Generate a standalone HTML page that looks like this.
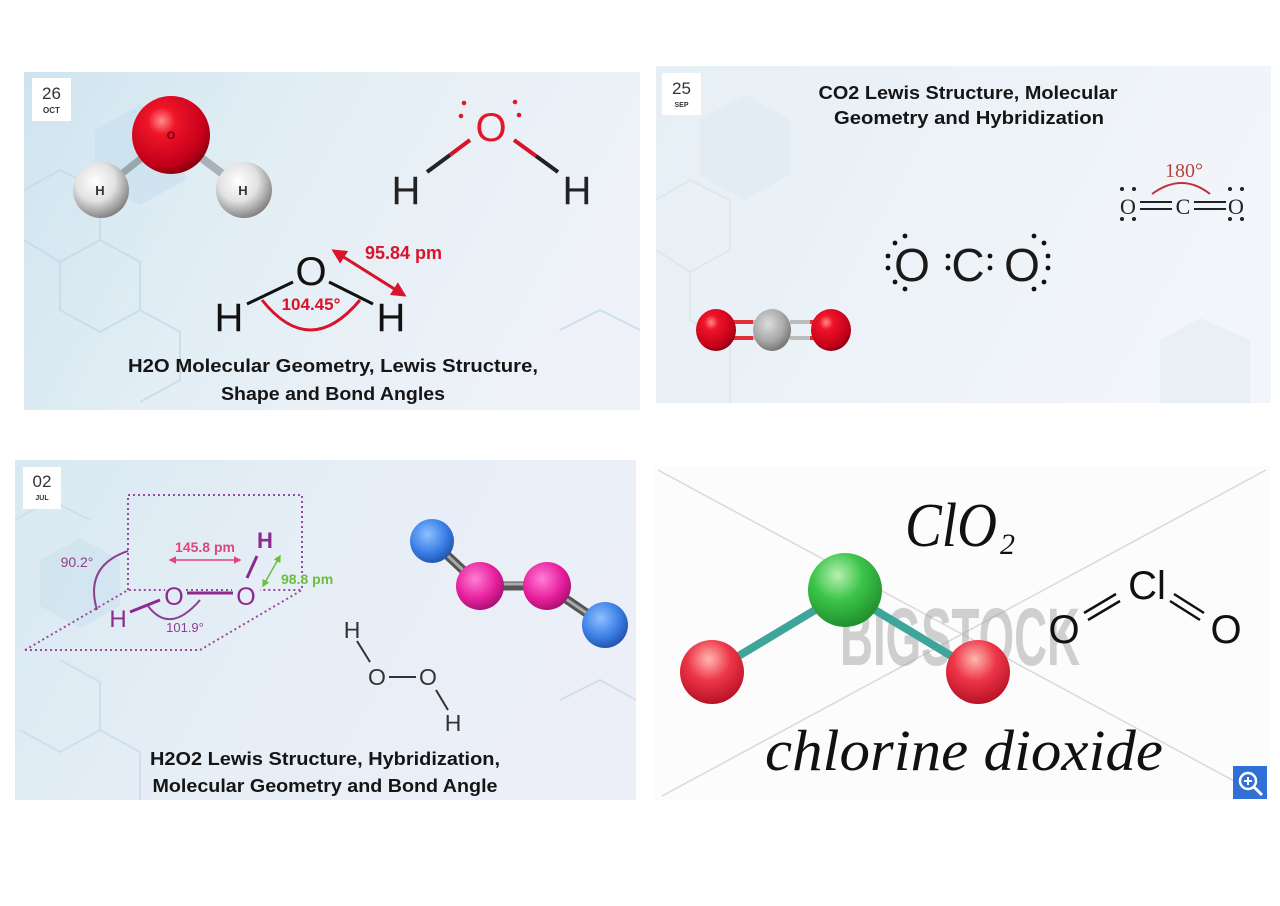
<!DOCTYPE html>
<html><head><meta charset="utf-8"><style>
html,body{margin:0;padding:0;background:#fff;width:1280px;height:906px;overflow:hidden}
svg{position:absolute;left:0;top:0}
</style></head><body>
<svg width="1280" height="906" viewBox="0 0 1280 906" xmlns="http://www.w3.org/2000/svg" font-family="Liberation Sans, sans-serif">
<defs>
<linearGradient id="g1" x1="0" y1="0" x2="1" y2="0.3"><stop offset="0" stop-color="#cfe4ef"/><stop offset="0.45" stop-color="#e3eef5"/><stop offset="1" stop-color="#eef2f8"/></linearGradient>
<linearGradient id="g2" x1="0" y1="0" x2="1" y2="0.3"><stop offset="0" stop-color="#e6eff5"/><stop offset="1" stop-color="#f2f5f9"/></linearGradient>
<linearGradient id="g3" x1="0" y1="0" x2="1" y2="0.3"><stop offset="0" stop-color="#d8e9f2"/><stop offset="0.5" stop-color="#e6eef6"/><stop offset="1" stop-color="#eceff8"/></linearGradient>
<radialGradient id="red" cx="0.38" cy="0.32" r="0.7"><stop offset="0" stop-color="#ff8a8a"/><stop offset="0.25" stop-color="#ee1528"/><stop offset="0.8" stop-color="#c4001a"/><stop offset="1" stop-color="#8c0010"/></radialGradient>
<radialGradient id="wh" cx="0.4" cy="0.35" r="0.7"><stop offset="0" stop-color="#ffffff"/><stop offset="0.5" stop-color="#e2e2e2"/><stop offset="1" stop-color="#777"/></radialGradient>
<radialGradient id="gr" cx="0.4" cy="0.35" r="0.7"><stop offset="0" stop-color="#dcdcdc"/><stop offset="0.6" stop-color="#a8a8a8"/><stop offset="1" stop-color="#6e6e6e"/></radialGradient>
<radialGradient id="pk" cx="0.4" cy="0.35" r="0.7"><stop offset="0" stop-color="#ff7ed6"/><stop offset="0.6" stop-color="#e8209e"/><stop offset="1" stop-color="#a0106c"/></radialGradient>
<radialGradient id="bl" cx="0.4" cy="0.35" r="0.7"><stop offset="0" stop-color="#8fc0ff"/><stop offset="0.6" stop-color="#3b7fe6"/><stop offset="1" stop-color="#1f4fa8"/></radialGradient>
<radialGradient id="grn" cx="0.4" cy="0.3" r="0.75"><stop offset="0" stop-color="#b8f0b0"/><stop offset="0.45" stop-color="#3cc54a"/><stop offset="1" stop-color="#1c8a2a"/></radialGradient>
<radialGradient id="rd2" cx="0.45" cy="0.3" r="0.75"><stop offset="0" stop-color="#ffb8b0"/><stop offset="0.45" stop-color="#ee3548"/><stop offset="1" stop-color="#b00e22"/></radialGradient>
<marker id="ar" viewBox="0 0 10 10" refX="8" refY="5" markerWidth="5" markerHeight="5" orient="auto-start-reverse"><path d="M0,0 L10,5 L0,10 z" fill="#d8132a"/></marker>
<marker id="arp" viewBox="0 0 10 10" refX="8" refY="5" markerWidth="5" markerHeight="5" orient="auto-start-reverse"><path d="M0,0 L10,5 L0,10 z" fill="#e0457b"/></marker>
<marker id="arg" viewBox="0 0 10 10" refX="8" refY="5" markerWidth="5" markerHeight="5" orient="auto-start-reverse"><path d="M0,0 L10,5 L0,10 z" fill="#6bbf3a"/></marker>
</defs>

<!-- CARD 1 -->
<rect x="24" y="72" width="616" height="338" fill="url(#g1)"/>
<g stroke="#c4dbe8" stroke-width="2" fill="none" opacity="0.8">
<path d="M24,190 L60,170 L100,190 L100,240 L60,262 L24,240"/>
<path d="M100,240 L140,262 L140,310 L100,332 L60,310 L60,262"/>
<path d="M140,310 L180,332 L180,380 L140,402"/>
<path d="M560,330 L600,310 L640,330"/>
</g>
<polygon points="95,130 140,105 185,130 185,180 140,205 95,180" fill="#c7dfee" opacity="0.6"/>
<rect x="32" y="78" width="39" height="43" fill="#fff"/>
<text x="51.5" y="99" font-size="17" fill="#333" text-anchor="middle">26</text>
<text x="51.5" y="113" font-size="8" font-weight="bold" fill="#333" text-anchor="middle">OCT</text>
<line x1="171" y1="135" x2="101" y2="190" stroke="#9aa6ad" stroke-width="7"/>
<line x1="171" y1="135" x2="244" y2="190" stroke="#a9b2b8" stroke-width="8"/>
<circle cx="101" cy="190" r="28" fill="url(#wh)"/>
<circle cx="244" cy="190" r="28" fill="url(#wh)"/>
<circle cx="171" cy="135" r="39" fill="url(#red)"/>
<text x="171" y="139" font-size="11" fill="#7a0010" text-anchor="middle" font-weight="bold">O</text>
<text x="100" y="195" font-size="13" fill="#333" text-anchor="middle" font-weight="bold">H</text>
<text x="243" y="195" font-size="13" fill="#333" text-anchor="middle" font-weight="bold">H</text>
<!-- Lewis top right -->
<text x="491" y="141" font-size="40" fill="#e0182d" text-anchor="middle">O</text>
<circle cx="464" cy="103" r="2.3" fill="#e0182d"/><circle cx="461" cy="116" r="2.3" fill="#e0182d"/>
<circle cx="515" cy="102" r="2.3" fill="#e0182d"/><circle cx="519" cy="115" r="2.3" fill="#e0182d"/>
<line x1="470" y1="140" x2="450" y2="155" stroke="#d8132a" stroke-width="4"/>
<line x1="450" y1="155" x2="427" y2="172" stroke="#222" stroke-width="4"/>
<line x1="514" y1="140" x2="536" y2="156" stroke="#d8132a" stroke-width="4"/>
<line x1="536" y1="156" x2="558" y2="172" stroke="#222" stroke-width="4"/>
<text x="406" y="204" font-size="40" fill="#222" text-anchor="middle">H</text>
<text x="577" y="204" font-size="40" fill="#222" text-anchor="middle">H</text>
<!-- Lower H2O -->
<text x="311" y="285" font-size="40" fill="#111" text-anchor="middle">O</text>
<text x="229" y="331" font-size="40" fill="#111" text-anchor="middle">H</text>
<text x="391" y="331" font-size="40" fill="#111" text-anchor="middle">H</text>
<line x1="247" y1="304" x2="293" y2="282" stroke="#111" stroke-width="3"/>
<line x1="329" y1="282" x2="373" y2="304" stroke="#111" stroke-width="3"/>
<path d="M262,300 Q310,360 360,300" fill="none" stroke="#d8132a" stroke-width="3"/>
<text x="311" y="310" font-size="17" font-weight="bold" fill="#d8132a" text-anchor="middle">104.45°</text>
<line x1="334" y1="251" x2="404" y2="295" stroke="#d8132a" stroke-width="3" marker-start="url(#ar)" marker-end="url(#ar)"/>
<text x="365" y="259" font-size="18" font-weight="bold" fill="#d8132a">95.84 pm</text>
<text x="333" y="372" font-size="18" font-weight="bold" fill="#151515" text-anchor="middle" textLength="410" lengthAdjust="spacingAndGlyphs">H2O Molecular Geometry, Lewis Structure,</text>
<text x="333" y="400" font-size="18" font-weight="bold" fill="#151515" text-anchor="middle" textLength="224" lengthAdjust="spacingAndGlyphs">Shape and Bond Angles</text>

<!-- CARD 2 -->
<rect x="656" y="66" width="615" height="337" fill="url(#g2)"/>
<g stroke="#dde7ee" stroke-width="2" fill="none">
<path d="M656,200 L690,180 L730,200 L730,250 L690,272 L656,250"/>
<path d="M690,272 L690,320 L730,342 L730,403"/>
</g>
<polygon points="700,120 745,95 790,120 790,175 745,200 700,175" fill="#dbe7ef" opacity="0.45"/>
<polygon points="1160,340 1200,318 1250,340 1250,403 1160,403" fill="#e2ecf2" opacity="0.6"/>
<rect x="662" y="73" width="39" height="42" fill="#fff"/>
<text x="681.5" y="94" font-size="17" fill="#333" text-anchor="middle">25</text>
<text x="681.5" y="107" font-size="7" font-weight="bold" fill="#333" text-anchor="middle">SEP</text>
<text x="968" y="99" font-size="18" font-weight="bold" fill="#151515" text-anchor="middle" textLength="299" lengthAdjust="spacingAndGlyphs">CO2 Lewis Structure, Molecular</text>
<text x="969" y="124" font-size="18" font-weight="bold" fill="#151515" text-anchor="middle" textLength="270" lengthAdjust="spacingAndGlyphs">Geometry and Hybridization</text>
<text x="1184" y="177" font-size="20" fill="#b5443a" text-anchor="middle" font-family="Liberation Serif, serif">180°</text>
<path d="M1152,194 Q1182,172 1210,194" fill="none" stroke="#c0303a" stroke-width="2"/>
<g font-family="Liberation Serif, serif" font-size="22" fill="#222" text-anchor="middle">
<text x="1128" y="214">O</text><text x="1183" y="214">C</text><text x="1236" y="214">O</text>
</g>
<g stroke="#222" stroke-width="2">
<line x1="1140" y1="202" x2="1172" y2="202"/><line x1="1140" y1="209" x2="1172" y2="209"/>
<line x1="1194" y1="202" x2="1226" y2="202"/><line x1="1194" y1="209" x2="1226" y2="209"/>
</g>
<g fill="#222">
<circle cx="1122" cy="189" r="2"/><circle cx="1134" cy="189" r="2"/><circle cx="1122" cy="219" r="2"/><circle cx="1134" cy="219" r="2"/>
<circle cx="1230" cy="189" r="2"/><circle cx="1242" cy="189" r="2"/><circle cx="1230" cy="219" r="2"/><circle cx="1242" cy="219" r="2"/>
</g>
<g font-size="46" fill="#1a1a1a" text-anchor="middle">
<text x="912" y="281">O</text><text x="968" y="281">C</text><text x="1022" y="281">O</text>
</g>
<g fill="#111">
<circle cx="905" cy="236" r="2.4"/><circle cx="895" cy="243" r="2.4"/><circle cx="888" cy="256" r="2.4"/><circle cx="888" cy="268" r="2.4"/><circle cx="895" cy="282" r="2.4"/><circle cx="905" cy="289" r="2.4"/>
<circle cx="1034" cy="236" r="2.4"/><circle cx="1044" cy="243" r="2.4"/><circle cx="1048" cy="256" r="2.4"/><circle cx="1048" cy="268" r="2.4"/><circle cx="1044" cy="282" r="2.4"/><circle cx="1034" cy="289" r="2.4"/>
<circle cx="948" cy="256" r="2.4"/><circle cx="948" cy="268" r="2.4"/><circle cx="990" cy="256" r="2.4"/><circle cx="990" cy="268" r="2.4"/>
</g>
<rect x="733" y="320" width="20" height="4" fill="#e0303a"/><rect x="733" y="336" width="20" height="4" fill="#e0303a"/>
<rect x="753" y="320" width="20" height="4" fill="#bbb"/><rect x="753" y="336" width="20" height="4" fill="#bbb"/>
<rect x="790" y="320" width="20" height="4" fill="#bbb"/><rect x="790" y="336" width="20" height="4" fill="#bbb"/>
<rect x="810" y="320" width="20" height="4" fill="#e0303a"/><rect x="810" y="336" width="20" height="4" fill="#e0303a"/>
<ellipse cx="716" cy="330" rx="20" ry="21" fill="url(#red)"/>
<ellipse cx="831" cy="330" rx="20" ry="21" fill="url(#red)"/>
<ellipse cx="772" cy="330" rx="19" ry="21" fill="url(#gr)"/>

<!-- CARD 3 -->
<rect x="15" y="460" width="621" height="340" fill="url(#g3)"/>
<g stroke="#cddeea" stroke-width="2" fill="none" opacity="0.9">
<path d="M15,520 L50,500 L90,520"/>
<path d="M60,660 L100,682 L100,730 L60,752 L20,730"/>
<path d="M100,730 L140,752 L140,800"/>
<path d="M560,700 L600,680 L636,700"/>
</g>
<polygon points="40,560 80,538 120,560 120,606 80,628 40,606" fill="#c8dfec" opacity="0.5"/>
<rect x="23" y="467" width="38" height="42" fill="#fff"/>
<text x="42" y="487" font-size="17" fill="#333" text-anchor="middle">02</text>
<text x="42" y="500" font-size="7" font-weight="bold" fill="#333" text-anchor="middle">JUL</text>
<g stroke="#9b4a9b" stroke-width="2" stroke-dasharray="2,3" fill="none">
<path d="M128,590 L128,495 L302,495 L302,590"/>
<path d="M25,650 L200,650 L302,590 L260,590"/>
<path d="M25,650 L128,590 L165,590"/>
<line x1="186" y1="590" x2="232" y2="590"/>
</g>
<path d="M128,551 Q84,566 97,610" fill="none" stroke="#8e3f8e" stroke-width="2"/>
<text x="77" y="567" font-size="14" fill="#8e3f8e" text-anchor="middle">90.2°</text>
<line x1="170" y1="560" x2="240" y2="560" stroke="#e0457b" stroke-width="1.5" marker-start="url(#arp)" marker-end="url(#arp)"/>
<text x="205" y="552" font-size="14" fill="#e0457b" text-anchor="middle" font-weight="bold">145.8 pm</text>
<text x="265" y="548" font-size="22" fill="#8e2a8e" text-anchor="middle" font-weight="bold">H</text>
<line x1="257" y1="556" x2="247" y2="578" stroke="#8e2a8e" stroke-width="3"/>
<text x="246" y="605" font-size="25" fill="#8e2a8e" text-anchor="middle">O</text>
<text x="174" y="605" font-size="25" fill="#8e2a8e" text-anchor="middle">O</text>
<line x1="187" y1="593" x2="233" y2="593" stroke="#8e2a8e" stroke-width="3"/>
<text x="118" y="627" font-size="24" fill="#8e2a8e" text-anchor="middle">H</text>
<line x1="130" y1="612" x2="160" y2="600" stroke="#8e2a8e" stroke-width="3"/>
<path d="M148,606 Q170,635 200,600" fill="none" stroke="#8e3f8e" stroke-width="2"/>
<text x="185" y="632" font-size="13" fill="#8e3f8e" text-anchor="middle">101.9°</text>
<line x1="280" y1="556" x2="263" y2="586" stroke="#6bbf3a" stroke-width="1.5" marker-start="url(#arg)" marker-end="url(#arg)"/>
<text x="281" y="584" font-size="14" fill="#6bbf3a" font-weight="bold">98.8 pm</text>
<line x1="432" y1="541" x2="480" y2="586" stroke="#555" stroke-width="9"/>
<line x1="480" y1="586" x2="547" y2="586" stroke="#555" stroke-width="9"/>
<line x1="547" y1="586" x2="604" y2="625" stroke="#555" stroke-width="9"/>
<line x1="432" y1="541" x2="480" y2="586" stroke="#aaa" stroke-width="3"/>
<line x1="480" y1="584" x2="547" y2="584" stroke="#aaa" stroke-width="3"/>
<line x1="547" y1="586" x2="604" y2="625" stroke="#aaa" stroke-width="3"/>
<circle cx="432" cy="541" r="22" fill="url(#bl)"/>
<circle cx="480" cy="586" r="24" fill="url(#pk)"/>
<circle cx="547" cy="586" r="24" fill="url(#pk)"/>
<circle cx="605" cy="625" r="23" fill="url(#bl)"/>
<g font-size="23" fill="#333" text-anchor="middle">
<text x="352" y="638">H</text><text x="377" y="685">O</text><text x="428" y="685">O</text><text x="453" y="731">H</text>
</g>
<g stroke="#333" stroke-width="2">
<line x1="357" y1="641" x2="370" y2="662"/><line x1="389" y1="677" x2="416" y2="677"/><line x1="436" y1="690" x2="448" y2="710"/>
</g>
<text x="325" y="765" font-size="18" font-weight="bold" fill="#151515" text-anchor="middle" textLength="350" lengthAdjust="spacingAndGlyphs">H2O2 Lewis Structure, Hybridization,</text>
<text x="325" y="792" font-size="18" font-weight="bold" fill="#151515" text-anchor="middle" textLength="345" lengthAdjust="spacingAndGlyphs">Molecular Geometry and Bond Angle</text>

<!-- CARD 4 -->
<rect x="654" y="466" width="616" height="334" fill="#fcfcfc"/>
<g stroke="#d9d9d9" stroke-width="1.5">
<line x1="658" y1="470" x2="1262" y2="796"/>
<line x1="1266" y1="470" x2="662" y2="796"/>
</g>
<text x="960" y="665" font-size="82" font-weight="bold" fill="#9a9a9a" opacity="0.45" text-anchor="middle" textLength="240" lengthAdjust="spacingAndGlyphs">BIGSTOCK</text>
<g font-family="Liberation Serif, serif" font-style="italic" fill="#111">
<text x="905" y="546" font-size="62" textLength="92" lengthAdjust="spacingAndGlyphs">ClO</text>
<text x="1000" y="554" font-size="30">2</text>
<text x="964" y="770" font-size="58" text-anchor="middle" textLength="398" lengthAdjust="spacingAndGlyphs">chlorine dioxide</text>
</g>
<line x1="845" y1="592" x2="712" y2="672" stroke="#3fa59a" stroke-width="8"/>
<line x1="845" y1="592" x2="978" y2="672" stroke="#3fa59a" stroke-width="8"/>
<circle cx="712" cy="672" r="32" fill="url(#rd2)"/>
<circle cx="978" cy="672" r="32" fill="url(#rd2)"/>
<circle cx="845" cy="590" r="37" fill="url(#grn)"/>
<g font-size="40" fill="#111" text-anchor="middle">
<text x="1147" y="599">Cl</text><text x="1064" y="643">O</text><text x="1226" y="643">O</text>
</g>
<g stroke="#111" stroke-width="2.5">
<line x1="1084" y1="613" x2="1116" y2="594"/><line x1="1088" y1="620" x2="1120" y2="601"/>
<line x1="1174" y1="594" x2="1204" y2="613"/><line x1="1170" y1="601" x2="1200" y2="620"/>
</g>
<rect x="1233" y="766" width="34" height="33" fill="#2f6fd6"/>
<circle cx="1248" cy="781" r="8" fill="none" stroke="#fff" stroke-width="2.5"/>
<line x1="1254" y1="787" x2="1262" y2="795" stroke="#fff" stroke-width="3"/>
<line x1="1244" y1="781" x2="1252" y2="781" stroke="#fff" stroke-width="2"/>
<line x1="1248" y1="777" x2="1248" y2="785" stroke="#fff" stroke-width="2"/>
</svg>
</body></html>
